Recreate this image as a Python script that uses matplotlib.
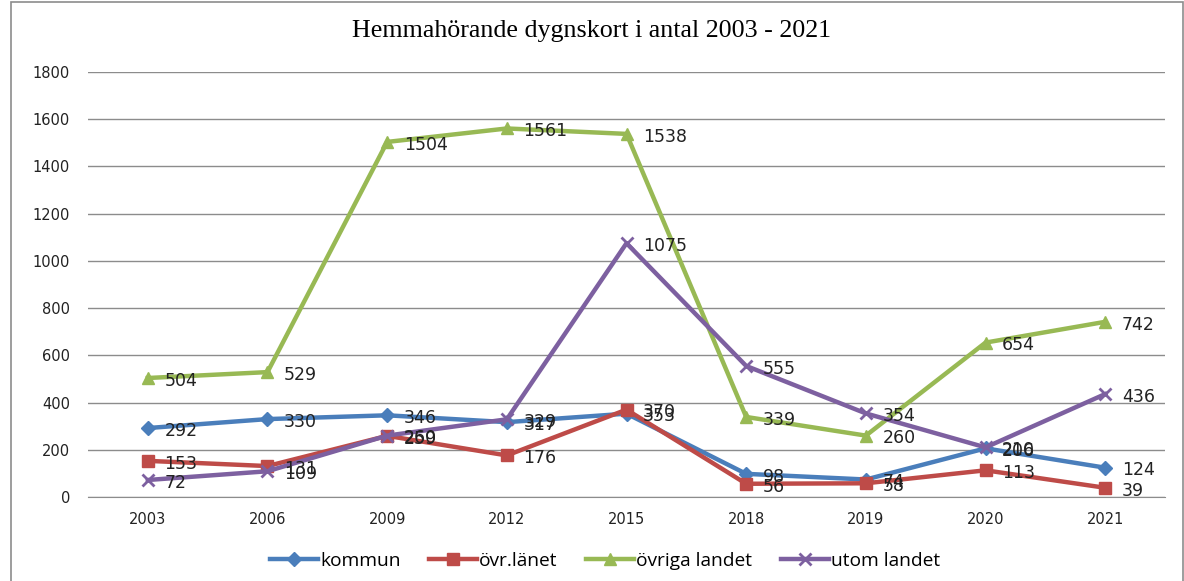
import numpy as np
import matplotlib.pyplot as plt
from matplotlib.patches import Rectangle

# Data
years = ['2003', '2006', '2009', '2012', '2015', '2018', '2019', '2020', '2021']
kommun = [292, 330, 346, 317, 353, 98, 74, 206, 124]
ovr_lanet = [153, 131, 259, 176, 370, 56, 58, 113, 39]
ovriga_landet = [504, 529, 1504, 1561, 1538, 339, 260, 654, 742]
utom_landet = [72, 109, 260, 329, 1075, 555, 354, 210, 436]

series = [
    ('kommun', kommun, '#4A7EBB', 'D', 7),
    ('övr.länet', ovr_lanet, '#BE4B48', 's', 9),
    ('övriga landet', ovriga_landet, '#98B954', '^', 9),
    ('utom landet', utom_landet, '#7D60A0', 'x', 9),
]

fig = plt.figure(figsize=(11.84, 5.81), dpi=100)
ax = fig.add_axes([0.0743, 0.1446, 0.9097, 0.7314])

# outer frame
fig.patches.append(Rectangle((0.009, -0.01), 0.99, 1.007, transform=fig.transFigure,
                             fill=False, edgecolor='#8C8C8C', linewidth=1.2))

x = np.arange(len(years))
for name, vals, color, marker, ms in series:
    ax.plot(x, vals, color=color, linewidth=3.2, marker=marker, markersize=ms,
            markeredgewidth=2 if marker == 'x' else 1, markeredgecolor=color,
            label=name, zorder=3)
    for xi, v in zip(x, vals):
        ax.annotate(str(v), (xi, v), xytext=(12, -2), textcoords='offset points',
                    ha='left', va='center', fontsize=12.5, color='#222222', zorder=4,
                    family='DejaVu Sans')

ax.set_xlim(-0.5, len(years) - 0.5)
ax.set_ylim(0, 1800)
ax.set_yticks(np.arange(0, 1801, 200))
ax.set_xticks(x)
ax.set_xticklabels(years)
ax.grid(axis='y', color='#8C8C8C', linewidth=1)
ax.set_axisbelow(True)
for s in ['left', 'right', 'top']:
    ax.spines[s].set_visible(False)
ax.spines['bottom'].set_color('#8C8C8C')
ax.tick_params(axis='both', length=0, labelsize=10.5, colors='#222222')
ax.tick_params(axis='x', pad=11)
ax.tick_params(axis='y', pad=13)

fig.text(0.5, 0.947, 'Hemmahörande dygnskort i antal 2003 - 2021', ha='center', va='center',
         fontsize=18.7, family='Liberation Serif')

fig.legend(loc='center', bbox_to_anchor=(0.511, 0.035), ncol=4, frameon=False,
           handlelength=2.5, columnspacing=1.5, handletextpad=0.1,
           prop={'family': 'Open Sans', 'size': 13.8})

fig.savefig('out.png', dpi=100)
